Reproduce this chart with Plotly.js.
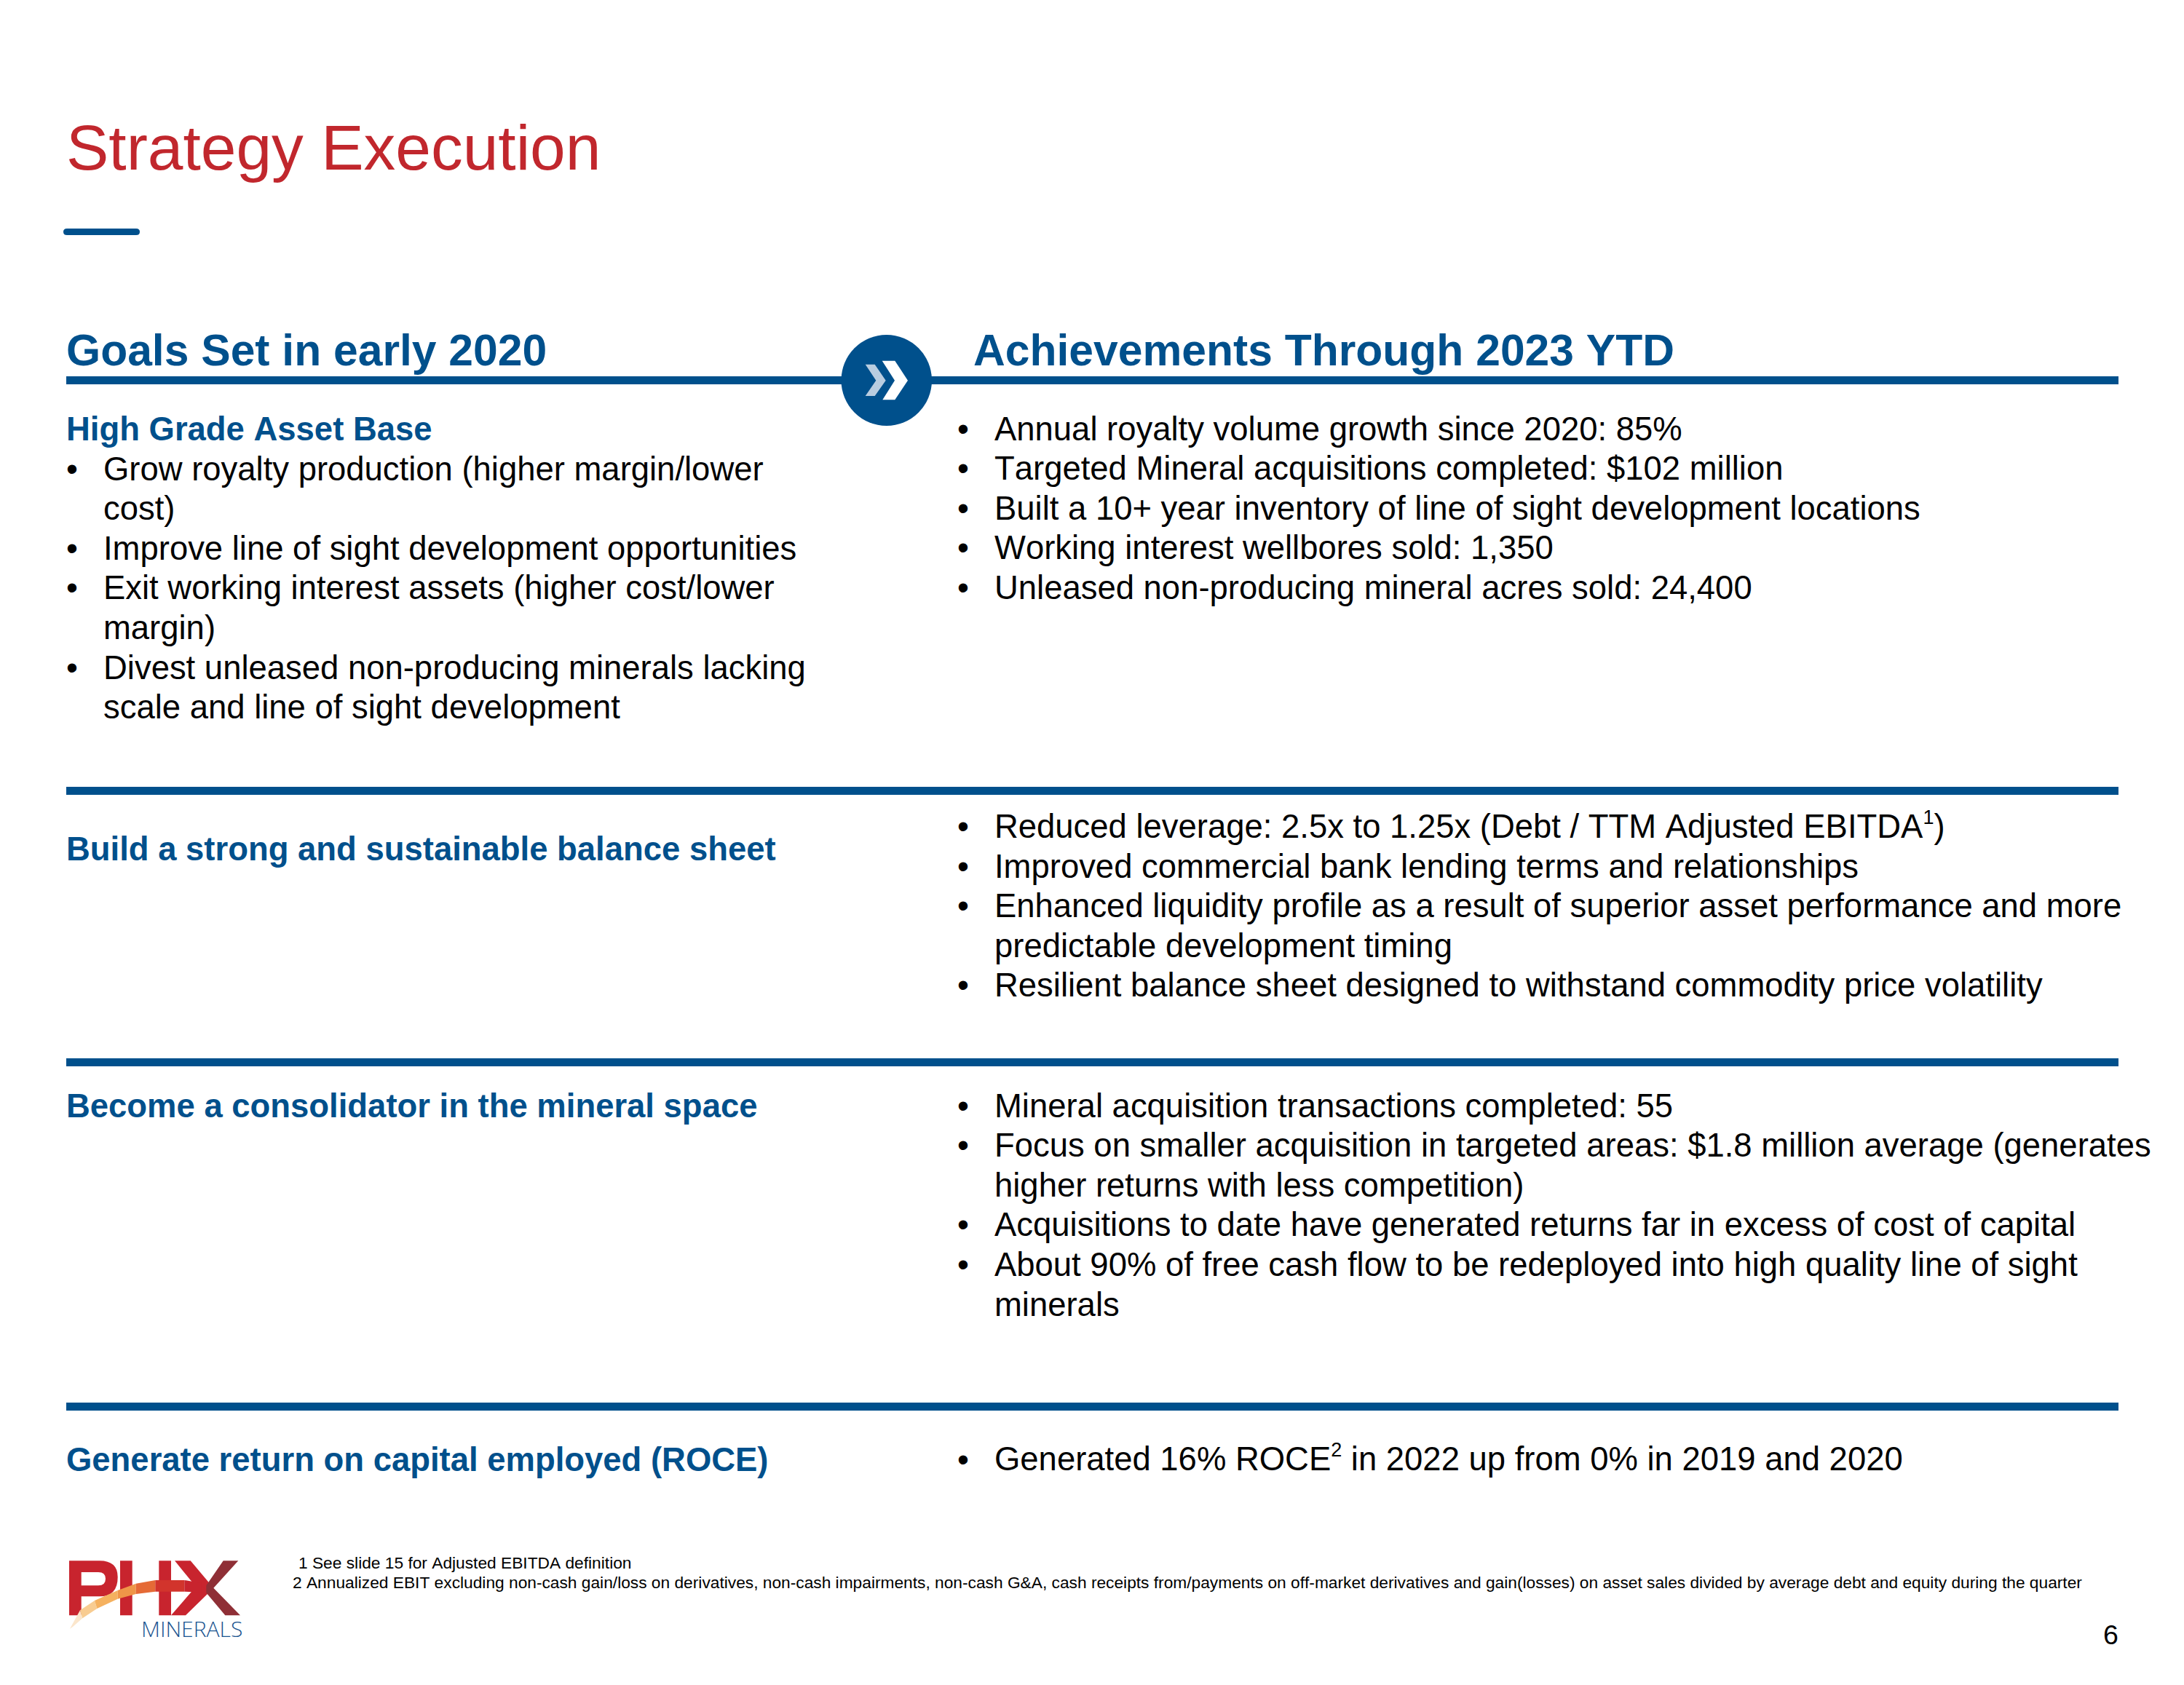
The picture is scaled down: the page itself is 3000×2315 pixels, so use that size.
<!DOCTYPE html>
<html><head><meta charset="utf-8">
<script src="https://cdn.plot.ly/plotly-3.0.1.min.js"></script>
<style>html,body{margin:0;padding:0;background:#fff} svg text{font-kerning:none}</style></head>
<body><div id="chart" style="width:3000px;height:2315px"></div>
<script>
// Text content
const pageTitle = "Strategy Execution";
const headingLeft = "Goals Set in early 2020";
const headingRight = "Achievements Through 2023 YTD";
const goalHeads = ["High Grade Asset Base","Build a strong and sustainable balance sheet","Become a consolidator in the mineral space","Generate return on capital employed (ROCE)"];
const goalLines = ["Grow royalty production (higher margin/lower","cost)","Improve line of sight development opportunities","Exit working interest assets (higher cost/lower","margin)","Divest unleased non-producing minerals lacking","scale and line of sight development"];
const goalBullets = [true,false,true,true,false,true,false];
const achieve1 = ["Annual royalty volume growth since 2020: 85%","Targeted Mineral acquisitions completed: $102 million","Built a 10+ year inventory of line of sight development locations","Working interest wellbores sold: 1,350","Unleased non-producing mineral acres sold: 24,400"];
const achieve2 = ["Reduced leverage: 2.5x to 1.25x (Debt / TTM Adjusted EBITDA<sup><span style=\"font-size:85%\">1</span></sup>)","Improved commercial bank lending terms and relationships","Enhanced liquidity profile as a result of superior asset performance and more","predictable development timing","Resilient balance sheet designed to withstand commodity price volatility"];
const bullets2 = [true,true,true,false,true];
const achieve3 = ["Mineral acquisition transactions completed: 55","Focus on smaller acquisition in targeted areas: $1.8 million average (generates","higher returns with less competition)","Acquisitions to date have generated returns far in excess of cost of capital","About 90% of free cash flow to be redeployed into high quality line of sight","minerals"];
const bullets3 = [true,true,false,true,true,false];
const achieve4 = ["Generated 16% ROCE<sup><span style=\"font-size:85%\">2</span></sup> in 2022 up from 0% in 2019 and 2020"];
const note1 = "1 See slide 15 for Adjusted EBITDA definition";
const note2 = "2 Annualized EBIT excluding non-cash gain/loss on derivatives, non-cash impairments, non-cash G&A, cash receipts from/payments on off-market derivatives and gain(losses) on asset sales divided by average debt and equity during the quarter";
const pageNumber = "6";
const logoWord = "MINERALS";

const BLUE="#00508c", RED="#c1272d", F="Liberation Sans";
const ann=[], shp=[];
function T(x,y,text,size,color,bold,anchor,fam,weight){
  const font={family:fam||F,size:size,color:color}; if(weight) font.weight=weight;
  ann.push({xref:'x',yref:'y',x:x,y:y,text:bold?'<b>'+text+'</b>':text,showarrow:false,xanchor:anchor||'left',yanchor:'middle',
    font:font,align:'left',borderpad:0,borderwidth:0});
}
function R(x0,y0,x1,y1,c){shp.push({type:'rect',xref:'x',yref:'y',x0,y0,x1,y1,fillcolor:c,line:{width:0},layer:'above'});}
function P(d,c){shp.push({type:'path',xref:'x',yref:'y',path:d,fillcolor:c,line:{width:0},layer:'above'});}
const PITCH=54.6, BS=45.44, LX=91, LT=142, RX=1315, RT=1366;
function block(lines,flags,y0,bx,tx){lines.forEach((s,i)=>{const y=y0+i*PITCH; if(flags[i]) T(bx,y,'•',BS,'#000');
  T(tx,y-(s.includes('<sup>')?1.5:0),s,BS,'#000');});}

T(91,203,pageTitle,87.5,RED);
P('M92 314 L187 314 Q192 314 192 318.5 Q192 323 187 323 L92 323 Q87 323 87 318.5 Q87 314 92 314 Z',BLUE);
T(91,481,headingLeft,60.6,BLUE,true);
T(1337,481,headingRight,60.6,BLUE,true);
[[517,528],[1081,1092],[1454,1465],[1927,1938]].forEach(r=>R(91,r[0],2910,r[1],BLUE));
shp.push({type:'circle',xref:'x',yref:'y',x0:1155.5,y0:460,x1:1280,y1:585,fillcolor:BLUE,line:{width:0},layer:'above'});
P('M1188.7 500.7 L1201.7 500.7 L1216.7 522.7 L1201.7 544 L1188.7 544 L1203.3 522.7 Z','#b9cde0');
P('M1211.7 495.7 L1229.3 495.7 L1247 522.7 L1229.3 549.3 L1212.3 549.3 L1229 522.7 Z','#ffffff');

T(LX,589,goalHeads[0],BS,BLUE,true);
block(goalLines,goalBullets,644,LX,LT);
block(achieve1,[1,1,1,1,1],589,RX,RT);
T(LX,1166,goalHeads[1],BS,BLUE,true);
block(achieve2,bullets2,1135.5,RX,RT);
T(LX,1519,goalHeads[2],BS,BLUE,true);
block(achieve3,bullets3,1519,RX,RT);
T(LX,2005,goalHeads[3],BS,BLUE,true);
block(achieve4,[1],2005,RX,RT);

T(410,2147,note1,22.74,'#000');
T(402,2174,note2,22.74,'#000');
T(2910,2246,pageNumber,37.5,'#000',false,'right');

// logo, outlined from the crop: z maps crop pixels to the page
const zx=v=>(80+v/3).toFixed(1), zy=v=>(2125+v/3).toFixed(1);
function poly(pts,c){P('M'+pts.map(p=>zx(p[0])+' '+zy(p[1])).join(' L')+' Z',c);}
const LR='#c8242e', LD='#8f2f36';
P(`M${zx(45)} ${zy(58)} L${zx(170)} ${zy(58)} Q${zx(245)} ${zy(58)} ${zx(245)} ${zy(125)} Q${zx(245)} ${zy(205)} ${zx(170)} ${zy(205)} L${zx(95)} ${zy(205)} L${zx(95)} ${zy(283)} L${zx(45)} ${zy(283)} Z M${zx(95)} ${zy(105)} L${zx(95)} ${zy(160)} L${zx(165)} ${zy(160)} Q${zx(195)} ${zy(160)} ${zx(195)} ${zy(132)} Q${zx(195)} ${zy(105)} ${zx(165)} ${zy(105)} Z`,LR);
poly([[255,58],[305,58],[305,283],[255,283]],LR);
poly([[415,58],[465,58],[465,283],[415,283]],LR);
poly([[480,58],[545,58],[640,170],[600,205],[480,58]],LR);
poly([[580,150],[620,190],[525,283],[465,283]],LR);
poly([[680,58],[742,58],[640,170],[750,283],[688,283],[610,190],[610,160]],LD);
const swTop=[[48,338],[90,262],[150,222],[245,180],[320,152],[400,138],[520,138],[590,150]];
const swBot=[[60,330],[100,295],[160,255],[245,215],[320,195],[400,185],[520,185],[590,188]];
const swCol=['#fbe6cc','#f8cc91','#f5b15f','#ef9648','#e56a36','#d2342c',LR];
for(let i=0;i<swCol.length;i++) poly([swTop[i],swTop[i+1],swBot[i+1],swBot[i]],swCol[i]);
T(194,2237,logoWord,30,'#1a5490',false,'left','Open Sans',300);

Plotly.newPlot('chart',[],{
  width:3000,height:2315,margin:{l:0,r:0,t:0,b:0},paper_bgcolor:'#fff',plot_bgcolor:'#fff',showlegend:false,
  xaxis:{range:[0,3000],visible:false,fixedrange:true},
  yaxis:{range:[2315,0],visible:false,fixedrange:true},
  annotations:ann,shapes:shp
},{displayModeBar:false,staticPlot:true});
</script></body></html>
